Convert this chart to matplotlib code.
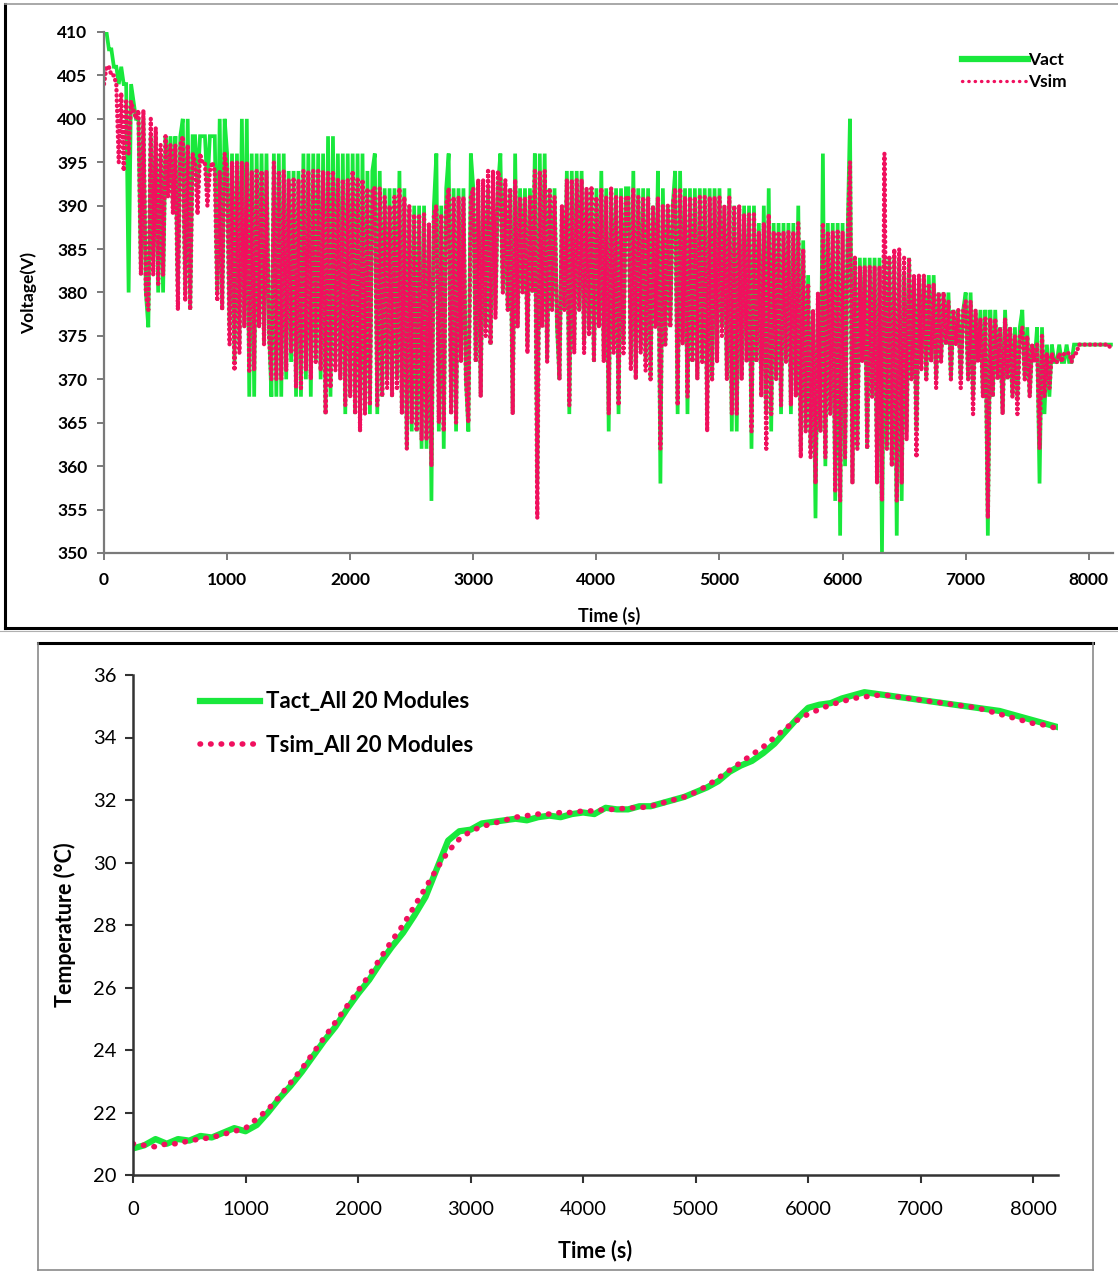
import matplotlib
matplotlib.use("Agg")
import matplotlib.pyplot as plt
from matplotlib.lines import Line2D

# ---------------- voltage record (20 s sampling) ----------------
v_step = 20
v_act = [
    410, 410, 408, 408, 406, 406, 404, 406, 404, 404,
    380, 404, 402, 400, 400, 382, 400, 380, 376, 398,
    384, 398, 380, 396, 380, 398, 392, 398, 390, 398,
    380, 398, 400, 380, 400, 378, 398, 398, 392, 398,
    398, 398, 392, 398, 398, 398, 380, 400, 378, 400,
    396, 376, 396, 372, 396, 374, 400, 376, 400, 368,
    396, 368, 396, 376, 396, 374, 396, 376, 368, 396,
    368, 396, 368, 396, 370, 394, 372, 394, 368, 394,
    368, 396, 370, 396, 368, 396, 372, 396, 370, 396,
    366, 398, 368, 398, 372, 396, 370, 396, 366, 396,
    368, 396, 366, 396, 364, 396, 366, 394, 366, 394,
    396, 366, 394, 368, 392, 370, 392, 368, 392, 370,
    394, 366, 392, 362, 390, 364, 390, 364, 390, 362,
    390, 362, 388, 356, 390, 396, 364, 390, 362, 392,
    396, 366, 392, 364, 392, 372, 392, 370, 364, 396,
    392, 372, 392, 368, 392, 376, 392, 374, 392, 378,
    392, 396, 380, 392, 378, 392, 366, 396, 376, 392,
    380, 392, 374, 392, 380, 396, 358, 396, 376, 396,
    372, 392, 378, 392, 376, 370, 390, 378, 394, 366,
    394, 374, 394, 378, 394, 374, 392, 376, 392, 372,
    392, 376, 394, 372, 392, 364, 392, 374, 392, 366,
    392, 374, 392, 392, 372, 394, 370, 392, 374, 392,
    372, 392, 370, 390, 376, 394, 358, 392, 374, 390,
    376, 390, 394, 366, 394, 374, 392, 366, 392, 372,
    392, 370, 392, 372, 392, 366, 392, 370, 392, 372,
    392, 376, 390, 370, 392, 364, 390, 364, 390, 370,
    390, 372, 390, 362, 390, 372, 388, 368, 390, 366,
    392, 364, 388, 370, 388, 366, 388, 372, 388, 366,
    388, 368, 390, 362, 386, 364, 382, 362, 378, 354,
    380, 364, 396, 360, 388, 366, 388, 356, 388, 352,
    388, 360, 386, 400, 358, 384, 362, 384, 372, 384,
    362, 384, 368, 384, 360, 384, 350, 384, 362, 384,
    360, 384, 352, 384, 356, 382, 364, 384, 370, 382,
    364, 382, 372, 382, 370, 382, 372, 382, 370, 380,
    372, 380, 374, 380, 370, 378, 374, 378, 370, 378,
    380, 370, 380, 368, 378, 372, 378, 368, 378, 352,
    378, 368, 378, 370, 376, 366, 378, 370, 376, 368,
    376, 368, 376, 378, 370, 376, 368, 374, 372, 376,
    358, 376, 366, 374, 368, 374, 372, 372, 374, 372,
    372, 374, 372, 372, 374, 374, 374, 374, 374, 374,
    374, 374, 374, 374, 374, 374, 374, 374, 374, 374,
]
v_sim = [
    404, 406, 406, 405, 405, 404, 395, 403, 394, 402,
    396, 402, 401, 400, 401, 382, 401, 380, 378, 400,
    382, 399, 381, 397, 382, 398, 391, 397, 389, 397,
    378, 397, 398, 379, 397, 378, 396, 395, 389, 396,
    395, 395, 390, 394, 395, 394, 379, 394, 378, 396,
    394, 374, 395, 371, 395, 373, 395, 376, 395, 371,
    394, 371, 394, 376, 394, 374, 394, 375, 370, 395,
    370, 394, 370, 394, 371, 393, 373, 393, 369, 393,
    369, 394, 371, 394, 370, 394, 372, 394, 371, 394,
    366, 394, 369, 394, 371, 393, 370, 393, 367, 393,
    368, 394, 366, 393, 364, 393, 366, 392, 367, 392,
    392, 367, 392, 368, 391, 369, 390, 368, 391, 369,
    392, 366, 391, 362, 390, 365, 389, 364, 389, 363,
    389, 363, 388, 360, 389, 390, 365, 389, 364, 390,
    392, 366, 391, 365, 391, 372, 391, 370, 365, 391,
    392, 372, 393, 368, 393, 375, 394, 374, 394, 377,
    394, 393, 380, 393, 378, 392, 366, 393, 376, 391,
    380, 391, 373, 391, 380, 394, 354, 394, 376, 394,
    372, 392, 378, 391, 377, 370, 390, 378, 393, 367,
    393, 373, 393, 378, 393, 373, 392, 375, 392, 372,
    391, 376, 392, 372, 391, 366, 392, 373, 391, 367,
    391, 373, 391, 391, 371, 392, 370, 391, 373, 391,
    371, 391, 370, 390, 376, 391, 362, 390, 374, 390,
    376, 390, 392, 367, 392, 374, 391, 368, 391, 372,
    391, 370, 391, 372, 391, 364, 391, 370, 391, 372,
    391, 375, 390, 370, 391, 366, 390, 366, 390, 370,
    389, 372, 389, 364, 389, 372, 387, 368, 388, 362,
    389, 366, 387, 370, 387, 367, 387, 372, 387, 367,
    387, 368, 388, 361, 385, 364, 381, 361, 378, 358,
    380, 364, 388, 361, 387, 366, 387, 357, 387, 356,
    387, 361, 385, 395, 358, 384, 362, 383, 372, 383,
    362, 383, 368, 383, 358, 383, 356, 396, 362, 384,
    360, 385, 356, 385, 358, 384, 363, 384, 370, 382,
    361, 382, 371, 382, 370, 381, 372, 381, 369, 380,
    372, 380, 374, 379, 370, 378, 374, 378, 369, 378,
    379, 370, 379, 366, 378, 372, 377, 368, 377, 354,
    377, 368, 377, 370, 376, 366, 377, 370, 376, 368,
    375, 366, 375, 376, 370, 375, 368, 374, 372, 374,
    362, 375, 368, 373, 369, 373, 372, 372, 373, 372,
    373, 373, 373, 372, 373, 373, 374, 374, 374, 374,
    374, 374, 374, 374, 374, 374, 374, 374, 374, 373.5,
]
v_time = [i * v_step for i in range(len(v_act))]

# ---------------- module temperature (100 s sampling) ----------------
t_time = list(range(0, 8300, 100))
t_act = [
    20.85, 20.95, 21.15, 21.0, 21.15, 21.1, 21.25, 21.2, 21.35, 21.5,
    21.4, 21.6, 22.0, 22.45, 22.85, 23.3, 23.8, 24.3, 24.75, 25.3,
    25.8, 26.25, 26.8, 27.3, 27.75, 28.3, 28.9, 29.8, 30.7, 31.0,
    31.05, 31.25, 31.3, 31.35, 31.4, 31.35, 31.45, 31.5, 31.45, 31.55,
    31.6, 31.55, 31.75, 31.7, 31.7, 31.8, 31.8, 31.9, 32.0, 32.1,
    32.25, 32.4, 32.6, 32.9, 33.1, 33.25, 33.5, 33.8, 34.2, 34.6,
    34.95, 35.05, 35.1, 35.25, 35.35, 35.45, 35.4, 35.35, 35.3, 35.25,
    35.2, 35.15, 35.1, 35.05, 35.0, 34.95, 34.9, 34.85, 34.75, 34.65,
    34.55, 34.45, 34.35,
]
t_sim = [
    21.0, 20.95, 20.9, 21.0, 21.0, 21.1, 21.15, 21.2, 21.3, 21.4,
    21.5, 21.8, 22.1, 22.5, 22.95, 23.4, 23.9, 24.4, 24.9, 25.4,
    25.9, 26.4, 26.95, 27.5, 28.0, 28.6, 29.2, 29.8, 30.35, 30.75,
    31.0, 31.15, 31.25, 31.35, 31.45, 31.5, 31.55, 31.55, 31.6, 31.6,
    31.65, 31.65, 31.7, 31.7, 31.75, 31.75, 31.8, 31.9, 32.0, 32.1,
    32.25, 32.45, 32.7, 32.95, 33.2, 33.45, 33.7, 34.0, 34.3, 34.55,
    34.75, 34.9, 35.05, 35.15, 35.25, 35.3, 35.35, 35.35, 35.3, 35.25,
    35.2, 35.15, 35.1, 35.05, 35.0, 34.95, 34.85, 34.75, 34.65, 34.55,
    34.45, 34.4, 34.3,
]

v_ticks = list(range(350, 411, 5))
t_ticks = list(range(20, 37, 2))
time_ticks = list(range(0, 8001, 1000))

GREEN = "#19E83C"
PINK = "#F0105E"

W, H = 1118, 1273
plt.rcParams["font.family"] = ["Lato", "DejaVu Sans"]

fig = plt.figure(figsize=(W / 100, H / 100), dpi=100)


def fx(x):
    return x / W


def fy(y):
    return 1 - y / H


# ---- panel frames ----
fig.add_artist(Line2D([fx(5), fx(5)], [fy(4), fy(628)], color="black", lw=2.2))
fig.add_artist(Line2D([fx(5), fx(1118)], [fy(628), fy(628)], color="black", lw=2.2))
fig.add_artist(Line2D([fx(5), fx(1118)], [fy(4), fy(4)], color="#9a9a9a", lw=1.2))
fig.add_artist(Line2D([fx(0), fx(1118)], [fy(631), fy(631)], color="#b0b0b0", lw=0.8))
fig.add_artist(Line2D([fx(38), fx(1093)], [fy(643), fy(643)], color="black", lw=2.2))
fig.add_artist(Line2D([fx(38), fx(38)], [fy(643), fy(1270)], color="#8a8a8a", lw=1.2))
fig.add_artist(Line2D([fx(1093), fx(1093)], [fy(643), fy(1270)], color="#8a8a8a", lw=1.2))
fig.add_artist(Line2D([fx(38), fx(1093)], [fy(1270), fy(1270)], color="#8a8a8a", lw=1.2))

# ---- voltage panel ----
ax1 = fig.add_axes([fx(104), fy(553), (1113.4 - 104) / W, (553 - 32) / H])
ax1.plot(v_time, v_act, color=GREEN, lw=2.7, solid_joinstyle="miter", label="Vact")
ax1.plot(v_time, v_sim, color=PINK, lw=3.1, linestyle=(0, (0.1, 1.1)),
         dash_capstyle="round", label="Vsim")
ax1.set_xlim(0, 8200)
ax1.set_ylim(350, 410)
ax1.set_xticks(time_ticks)
ax1.set_yticks(v_ticks)
for s in ("top", "right"):
    ax1.spines[s].set_visible(False)
for s in ("left", "bottom"):
    ax1.spines[s].set_color("#7a7a7a")
    ax1.spines[s].set_linewidth(1.6)
ax1.tick_params(axis="x", direction="out", length=5, width=1.4, color="#7a7a7a",
                labelsize=12.5, pad=9)
ax1.tick_params(axis="y", direction="out", length=5, width=1.4, color="#7a7a7a",
                labelsize=12.5, pad=7)
for lab in ax1.get_xticklabels() + ax1.get_yticklabels():
    lab.set_fontweight("bold")
ax1.set_ylabel("Voltage(V)", fontsize=12.5, fontweight="bold", labelpad=14)
ax1.set_xlabel("Time (s)", fontsize=13, fontweight="bold", labelpad=13)
leg1 = ax1.legend(loc="upper left", bbox_to_anchor=(0.843, 0.975), frameon=False,
                  handlelength=3.8, handletextpad=0.0,
                  borderaxespad=0, labelspacing=0.35,
                  prop={"weight": "bold", "size": 12.5})
leg1.get_lines()[0].set_linewidth(4.5)
leg1.get_lines()[1].set_linewidth(2.4)
leg1.get_lines()[1].set_linestyle((0, (0.1, 1.8)))

# ---- temperature panel ----
ax2 = fig.add_axes([fx(133), fy(1175), (1058 - 133) / W, (1175 - 675) / H])
ax2.plot(t_time, t_act, color=GREEN, lw=4.5, label="Tact_All 20 Modules")
ax2.plot(t_time, t_sim, color=PINK, lw=4.0, linestyle=(0, (0.1, 1.8)),
         dash_capstyle="round", label="Tsim_All 20 Modules")
ax2.set_xlim(0, 8220)
ax2.set_ylim(20, 36)
ax2.set_xticks(time_ticks)
ax2.set_yticks(t_ticks)
for s in ("top", "right"):
    ax2.spines[s].set_visible(False)
for s in ("left", "bottom"):
    ax2.spines[s].set_color("#333333")
    ax2.spines[s].set_linewidth(1.8)
ax2.tick_params(axis="x", direction="out", length=6, width=1.5, color="#333333",
                labelsize=14.5, pad=13)
ax2.tick_params(axis="y", direction="out", length=6, width=1.5, color="#333333",
                labelsize=14.5, pad=6)
ax2.set_ylabel("Temperature (°C)", fontsize=15.5, fontweight="bold", labelpad=12)
ax2.set_xlabel("Time (s)", fontsize=15.5, fontweight="bold", labelpad=15)
leg2 = ax2.legend(loc="upper left", bbox_to_anchor=(0.063, 0.985), frameon=False,
                  handlelength=2.7, handletextpad=0.25, borderaxespad=0,
                  labelspacing=1.0, prop={"weight": "bold", "size": 16})

fig.savefig("out.png", dpi=100)
